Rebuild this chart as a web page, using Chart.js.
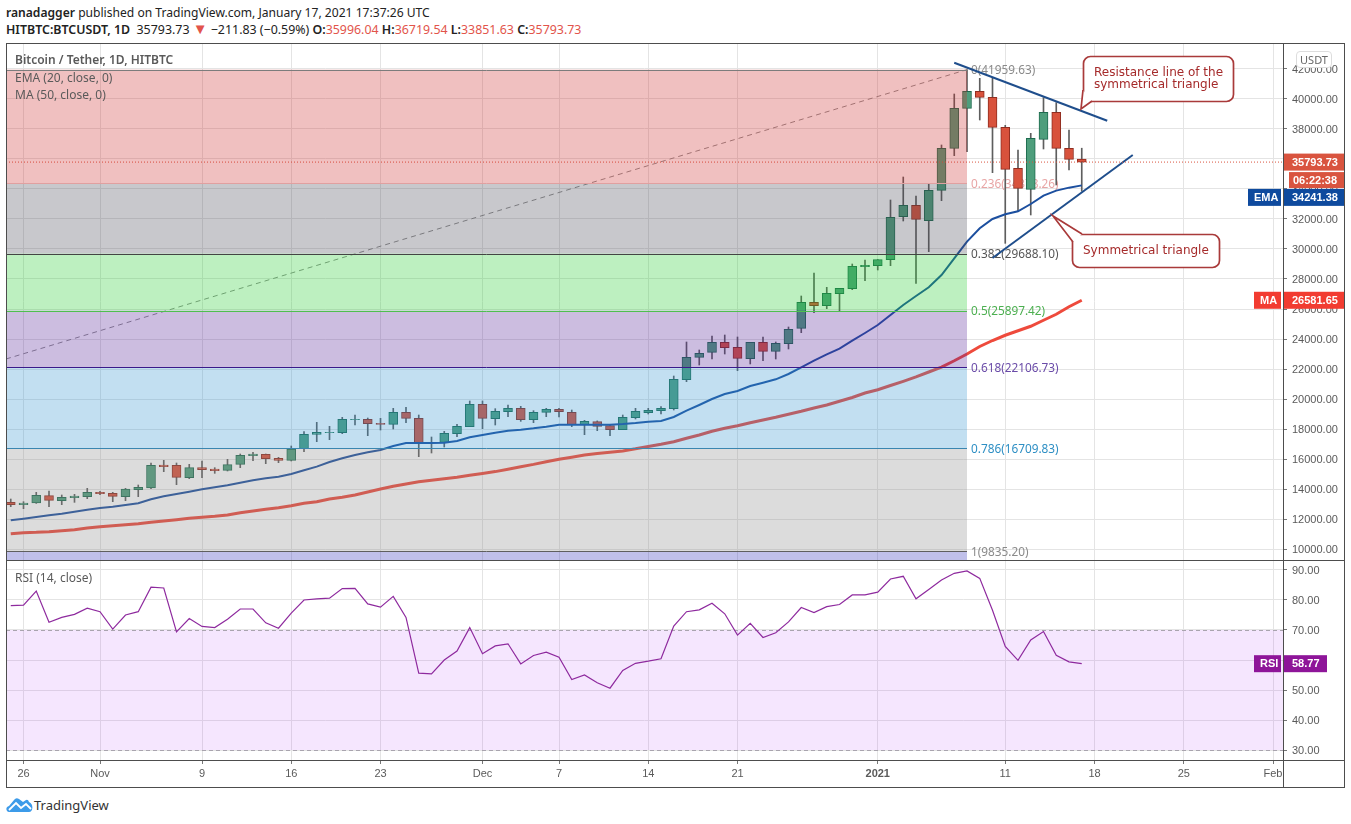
<!DOCTYPE html>
<html>
<head>
<meta charset="utf-8">
<title>BTCUSDT</title>
<script src="https://cdn.jsdelivr.net/npm/chart.js@4"></script>
<style>
    html, body { margin: 0; padding: 0; background: #fff; width: 1351px; height: 824px; overflow: hidden; font-family: 'Noto Sans', sans-serif; }
    .abs { position: absolute; white-space: pre; }
    .head { left: 6px; font-size: 12.1px; color: #222; line-height: 16px; }
    .head b { font-weight: 600; }
    .head i { font-style: normal; color: #e2544b; }
    .leg { left: 15px; font-size: 12px; color: #5a5a5a; line-height: 14px; }
    canvas { position: absolute; }
    .line { position: absolute; background: #4d4d4d; }
</style>
</head>
<body>
<div class="abs head" style="top:5px"><b>ranadagger</b> published on TradingView.com, January 17, 2021 17:37:26 UTC</div>
<div class="abs head" style="top:22px;font-size:12.4px"><b>HITBTC:BTCUSDT, 1D</b>  35793.73 <i style="font-size:15px;line-height:12px">▼</i> −211.83 (−0.59%) <b>O:</b><i>35996.04</i> <b>H:</b><i>36719.54</i> <b>L:</b><i>33851.63</i> <b>C:</b><i>35793.73</i></div>

<canvas id="priceChart" style="left:6px;top:43px" width="1338" height="517"></canvas>
<canvas id="rsiChart" style="left:6px;top:560px" width="1338" height="227"></canvas>

<div class="line" style="left:6px;top:43px;width:1338px;height:1px"></div>
<div class="line" style="left:6px;top:560px;width:1338px;height:1px"></div>
<div class="line" style="left:6px;top:760px;width:1338px;height:1px"></div>
<div class="line" style="left:6px;top:787px;width:1338px;height:1px"></div>
<div class="line" style="left:6px;top:43px;width:1px;height:745px"></div>
<div class="line" style="left:1344px;top:43px;width:1px;height:745px"></div>
<div class="line" style="left:1283px;top:43px;width:1px;height:745px"></div>

<div class="abs leg" style="top:53px;font-weight:600">Bitcoin / Tether, 1D, HITBTC</div>
<div class="abs leg" style="top:71px">EMA (20, close, 0)</div>
<div class="abs leg" style="top:88px">MA (50, close, 0)</div>
<div class="abs leg" style="top:571px">RSI (14, close)</div>

<div class="abs" style="left:1296px;top:51px;width:34px;height:15px;background:#fff;border:1px solid #ddd;border-radius:4px;font-size:11px;color:#666;text-align:center;line-height:15px">USDT</div>

<svg class="abs" style="left:6px;top:797px" width="27" height="16" viewBox="0 0 27 16">
    <path d="M3 15 C0 15 -1 10 3 9 L8 3 Q10 0 13 2 L17 5 L20 3 Q22 2 23 5 C28 7 27 15 23 15 Z" fill="#3d9be9"/>
    <path d="M3 13 L10 6 L15 11 L20 7 L25 12" fill="none" stroke="#fff" stroke-width="1.8"/>
</svg>
<div class="abs" style="left:34px;top:797px;font-size:13px;color:#333;line-height:17px">TradingView</div>

<script>
// days counted from 26 Oct 2020, first candle is 25 Oct
const firstDay = -1;
const pxPerDay = 12.75, day0Px = 23.5 - 6;
const xMin = -day0Px / pxPerDay, xMax = (1277 - day0Px) / pxPerDay;

const tickLabels = {
    0: '26', 6: 'Nov', 14: '9', 21: '16', 28: '23', 36: 'Dec', 42: '7', 49: '14',
    56: '21', 67: '2021', 77: '11', 84: '18', 91: '25', 98: 'Feb'
};
const tickDays = Object.keys(tickLabels).map(Number);
const priceTicks = [];
for (let v = 10000; v <= 42000; v += 2000) priceTicks.push(v);
const rsiTicks = [30, 40, 50, 60, 70, 80, 90];

// open, high, low, close
const candles = [
    [13111,13333,12822,12955],[12955,13155,12689,13067],[13067,13778,13040,13578],[13556,13867,12822,13244],
    [13222,13600,12955,13444],[13422,13644,13111,13533],[13489,14044,13355,13778],[13778,13844,13622,13689],
    [13711,13778,13155,13511],[13489,14044,13222,14000],[13955,14267,13489,14111],[14067,15733,14022,15578],
    [15600,15911,15155,15489],[15578,15733,14289,14778],[14756,15644,14689,15422],[15422,15867,14756,15289],
    [15333,15422,15044,15222],[15244,15978,15200,15622],[15644,16333,15422,16244],[16222,16444,15889,16333],
    [16311,16333,15689,16022],[16044,16111,15755,15911],[15911,16867,15867,16667],[16689,17822,16489,17644],
    [17644,18444,17155,17778],[17755,18178,17289,17778],[17756,18778,17689,18645],[18622,18933,18267,18645],
    [18645,18733,17556,18356],[18378,18711,17933,18311],[18311,19378,18000,19111],[19111,19445,18423,18711],
    [18711,18933,16156,17089],[17111,17467,16400,17067],[17111,17845,16800,17711],[17689,18312,17489,18178],
    [18156,19867,18156,19645],[19645,19867,18023,18711],[18689,19356,18267,19178],[19156,19600,18823,19378],
    [19378,19511,18511,18623],[18623,19223,18423,19111],[19111,19378,18823,19311],[19311,19378,18800,19156],
    [19111,19267,18156,18289],[18289,18578,17623,18511],[18489,18540,17889,18178],[18223,18270,17556,17956],
    [17956,18933,17956,18778],[18756,19378,18667,19178],[19089,19378,19000,19245],[19222,19500,19000,19378],
    [19356,21533,19267,21311],[21289,23800,21156,22778],[22778,23267,22267,23044],[23111,24200,22667,23778],
    [23778,24267,23000,23422],[23445,24133,21889,22711],[22689,23778,22334,23778],[23778,24133,22556,23178],
    [23178,23800,22667,23711],[23689,24800,23334,24645],[24711,26867,24422,26444],[26444,28400,25755,26222],
    [26222,27445,26022,27045],[27022,27378,25867,27378],[27356,29000,27289,28845],[28823,29267,27889,28911],
    [28889,29300,28600,29289],[29289,33267,28889,32112],[32156,34800,31867,32912],[32912,33534,27712,31979],
    [31889,34378,29823,33912],[33912,36934,33223,36712],[36712,40334,36223,39378],[39378,41960,36490,40512],
    [40512,41378,38600,40112],[40112,41378,35090,38112],[38112,38245,30378,35312],[35378,36600,32490,34045],
    [33979,37712,32267,37378],[37312,40089,36667,39112],[39112,39756,34267,36712],[36712,37934,35267,35979],
    [35996,36719,33851,35794]
];

const ema = [
    11911,12022,12133,12245,12356,12489,12622,12733,12822,12933,13045,13311,13511,13667,13822,13978,14111,
    14245,14422,14578,14711,14822,15000,15245,15489,15800,16050,16267,16445,16600,16867,17067,17067,17067,
    17089,17200,17445,17600,17756,17889,17956,18045,18156,18289,18289,18289,18289,18289,18333,18400,18489,
    18534,18800,19222,19600,20000,20334,20534,20867,21089,21311,21667,22111,22556,22978,23356,23889,24400,
    24933,25600,26267,26868,27445,28267,29379,30490,31379,32001,32312,32512,33000,33556,33890,34090,34241
];

const ma = [
    11022,11089,11111,11156,11222,11289,11400,11489,11556,11622,11689,11778,11867,11956,12045,12111,12178,
    12267,12422,12533,12645,12756,12889,13045,13156,13333,13444,13600,13800,14000,14180,14340,14480,14580,
    14690,14790,14920,15040,15160,15320,15480,15640,15820,15980,16120,16270,16360,16450,16540,16680,16840,
    16980,17150,17380,17600,17850,18050,18220,18420,18600,18780,18980,19180,19400,19600,19850,20100,20400,
    20620,20900,21180,21470,21800,22130,22550,23000,23500,23900,24250,24550,24850,25250,25650,26150,26581
];

const rsi = [
    78.1,78.3,83,72.6,74.2,75.2,77.3,76.1,70.3,75,76.1,84.3,84,69.4,73.8,71.2,70.8,73.6,77,77,72.4,70.6,
    75.6,80,80.4,80.6,83.8,83.9,78.7,77.6,81.2,74.2,55.6,55.4,60,63,70.8,62.1,64.7,65.4,58.7,61.5,62.6,60.9,
    53.5,55,52.4,50.6,56.5,58.9,59.6,60.4,71.3,76.1,76.7,78.9,75.4,68.3,72.2,67.5,69.1,72.7,77.5,75.8,77.8,
    78.5,81.7,81.7,82.6,87,87.9,80.4,83.5,86.7,88.9,89.7,87.2,76.6,64.5,59.9,66.7,69.5,61.6,59.4,58.77
];

const fibLevels = [
    { txt: '0(41959.63)',       v: 41959.63, line: '#7c7c7c', color: '#8a8a8a', fill: 'rgba(205,45,45,0.3)' },
    { txt: '0.236(34378.26)',   v: 34378.26, line: '#e0a0a0', color: '#e8a5a5', fill: 'rgba(72,72,85,0.3)' },
    { txt: '0.382(29688.10)',   v: 29688.10, line: '#444444', color: '#555555', fill: 'rgba(38,205,45,0.3)' },
    { txt: '0.5(25897.42)',     v: 25897.42, line: '#4fbf4f', color: '#4caf50', fill: 'rgba(85,35,152,0.3)' },
    { txt: '0.618(22106.73)',   v: 22106.73, line: '#3a1a8a', color: '#6a4ba8', fill: 'rgba(52,148,208,0.3)' },
    { txt: '0.786(16709.83)',   v: 16709.83, line: '#3a86b0', color: '#2e8fc4', fill: 'rgba(138,138,138,0.3)' },
    { txt: '1(9835.20)',        v: 9835.20,  line: '#5f5f5f', color: '#8a8a8a', fill: 'rgba(45,45,185,0.3)' }
];
const fibEndDay = 74;

const pts = arr => arr.map((v, i) => ({ x: firstDay + i, y: v }));

function badge(ctx, x, y, w, h, color, txt, tx, bold) {
    ctx.fillStyle = color;
    ctx.fillRect(x, y, w, h);
    ctx.fillStyle = '#fff';
    ctx.font = (bold === false ? '' : 'bold ') + "11px 'Liberation Sans'";
    ctx.textAlign = 'left';
    ctx.textBaseline = 'middle';
    ctx.fillText(txt, tx, y + h / 2 + 0.5);
}

function callout(ctx, pts, x, y, w, h, r, lines) {
    ctx.save();
    ctx.beginPath();
    ctx.roundRect(x, y, w, h, r);
    ctx.fillStyle = '#fff';
    ctx.fill();
    ctx.strokeStyle = '#a93a3a';
    ctx.lineWidth = 1.7;
    ctx.stroke();
    // pointer on top of the box edge
    ctx.beginPath();
    ctx.moveTo(pts[0][0], pts[0][1]);
    ctx.lineTo(pts[1][0], pts[1][1]);
    ctx.lineTo(pts[2][0], pts[2][1]);
    ctx.closePath();
    ctx.fill();
    ctx.beginPath();
    ctx.moveTo(pts[0][0], pts[0][1]);
    ctx.lineTo(pts[1][0], pts[1][1]);
    ctx.lineTo(pts[2][0], pts[2][1]);
    ctx.stroke();
    ctx.fillStyle = '#a52a2a';
    ctx.font = "12px 'DejaVu Sans'";
    ctx.textAlign = 'left';
    ctx.textBaseline = 'middle';
    lines.forEach(l => ctx.fillText(l.t, l.x, l.y));
    ctx.restore();
}

const fibPlugin = {
    id: 'fib',
    beforeDatasetsDraw(chart) {
        // labels sit under the candles
        const ctx = chart.ctx, y = chart.scales.y, x = chart.scales.x;
        ctx.save();
        ctx.font = "11.8px 'Noto Sans'";
        ctx.textBaseline = 'middle';
        ctx.textAlign = 'left';
        fibLevels.forEach(f => {
            ctx.fillStyle = f.color;
            ctx.fillText(f.txt, x.getPixelForValue(fibEndDay) + 4, y.getPixelForValue(f.v) + 1);
        });
        ctx.restore();
    },
    afterDatasetsDraw(chart) {
        const ctx = chart.ctx, y = chart.scales.y, x = chart.scales.x, area = chart.chartArea;
        const xEnd = x.getPixelForValue(fibEndDay);
        ctx.save();
        fibLevels.forEach((f, i) => {
            const top = y.getPixelForValue(f.v);
            const bottom = i < fibLevels.length - 1 ? y.getPixelForValue(fibLevels[i + 1].v) : area.bottom;
            ctx.fillStyle = f.fill;
            ctx.fillRect(area.left, top, xEnd - area.left, bottom - top);
            ctx.strokeStyle = f.line;
            ctx.lineWidth = 1;
            ctx.beginPath();
            ctx.moveTo(area.left, Math.round(top) + 0.5);
            ctx.lineTo(xEnd, Math.round(top) + 0.5);
            ctx.stroke();
        });
        ctx.restore();
    },
    afterDraw(chart) {
        const ctx = chart.ctx, y = chart.scales.y;
        ctx.save();
        const cy = y.getPixelForValue(35793.73);
        badge(ctx, 1277, cy - 8.5, 61, 17, '#d9543f', '35793.73', 1286);
        badge(ctx, 1283, cy + 10, 55, 16, '#d9543f', '06:22:38', 1287);
        const ey = y.getPixelForValue(34241.38) + 12;
        badge(ctx, 1242, ey - 8.5, 33, 17, '#0e4a9e', 'EMA', 1248);
        badge(ctx, 1277, ey - 8.5, 61, 17, '#0e4a9e', '34241.38', 1286);
        const my = y.getPixelForValue(26581.65);
        badge(ctx, 1248, my - 8.5, 27, 17, '#f23c31', 'MA', 1254);
        badge(ctx, 1277, my - 8.5, 61, 17, '#f23c31', '26581.65', 1286);

        callout(ctx, [[1077, 90 - 43], [1075, 109 - 43], [1086, 101 - 43]], 1077.5, 13.5, 150, 45, 7, [
            { t: 'Resistance line of the', x: 1088, y: 29.5 },
            { t: 'symmetrical triangle', x: 1088, y: 41.5 }
        ]);
        callout(ctx, [[1067, 242 - 43], [1047, 216 - 43], [1076, 234 - 43]], 1066.5, 191.5, 147, 33, 7, [
            { t: 'Symmetrical triangle', x: 1077, y: 207.5 }
        ]);
        ctx.restore();
    }
};

const rsiPlugin = {
    id: 'rsiBand',
    beforeDatasetsDraw(chart) {
        const ctx = chart.ctx, y = chart.scales.y, area = chart.chartArea;
        const y70 = y.getPixelForValue(70), y30 = y.getPixelForValue(30);
        ctx.save();
        ctx.fillStyle = 'rgba(170,50,245,0.12)';
        ctx.fillRect(area.left, y70, area.right - area.left, y30 - y70);
        ctx.strokeStyle = '#a9a4ae';
        ctx.setLineDash([4, 3]);
        ctx.lineWidth = 1;
        [y70, y30].forEach(p => {
            ctx.beginPath();
            ctx.moveTo(area.left, Math.round(p) + 0.5);
            ctx.lineTo(area.right, Math.round(p) + 0.5);
            ctx.stroke();
        });
        ctx.restore();
    },
    afterDraw(chart) {
        const ctx = chart.ctx, y = chart.scales.y;
        const py = y.getPixelForValue(58.77);
        ctx.save();
        badge(ctx, 1248, py - 8.5, 27, 17, '#8e1599', 'RSI', 1254);
        badge(ctx, 1277, py - 8.5, 44, 17, '#8e1599', '58.77', 1286);
        ctx.restore();
    }
};

Chart.defaults.font.family = "'Liberation Sans', sans-serif";
Chart.defaults.font.size = 11;
Chart.defaults.color = '#5a5a5a';
Chart.defaults.animation = false;
Chart.defaults.responsive = false;

function fixY(scale) {
    scale.width = 61;
    scale.paddingTop = 0;
    scale.paddingBottom = 0;
}

function fixX(h) {
    return scale => {
        scale.height = h;
        scale.paddingLeft = 0;
        scale.paddingRight = 0;
    };
}

const gridColor = '#e4e4e4';

const priceChart = new Chart(document.getElementById('priceChart'), {
    data: {
        datasets: [
            { type: 'line', label: 'fib trend', data: [{ x: xMin, y: 22667 }, { x: 74, y: 41959.63 }], borderColor: '#8f8f8f', borderWidth: 1, borderDash: [5, 4], pointRadius: 0, order: 1 },
            { type: 'line', label: 'last', data: [{ x: xMin, y: 35793.73 }, { x: xMax, y: 35793.73 }], borderColor: '#d9543f', borderWidth: 1, borderDash: [1, 2], pointRadius: 0, order: 1 },
            { type: 'line', label: 'resistance', data: [{ x: 73, y: 42420 }, { x: 85, y: 38553 }], borderColor: '#1f4e8c', borderWidth: 2, pointRadius: 0, order: 1 },
            { type: 'line', label: 'support', data: [{ x: 76, y: 29400 }, { x: 87, y: 36267 }], borderColor: '#1f4e8c', borderWidth: 2, pointRadius: 0, order: 1 },
            { type: 'line', label: 'EMA', data: pts(ema), borderColor: '#1c4f9f', borderWidth: 2, pointRadius: 0, order: 2 },
            { type: 'line', label: 'MA', data: pts(ma), borderColor: '#ee4a3c', borderWidth: 3, pointRadius: 0, order: 3 },
            {
                type: 'bar', label: 'body', grouped: false, barThickness: 9, order: 4,
                data: candles.map((c, i) => ({ x: firstDay + i, y: [c[0], c[3]] })),
                backgroundColor: candles.map(c => c[3] >= c[0] ? '#4e9e7c' : '#d8523c'),
                borderColor: candles.map(c => c[3] >= c[0] ? '#1e6b4f' : '#8f2d20'),
                borderWidth: 1, borderSkipped: false
            },
            {
                type: 'bar', label: 'wick', grouped: false, barThickness: 1, order: 5,
                data: candles.map((c, i) => ({ x: firstDay + i, y: [c[2], c[1]] })),
                backgroundColor: '#5e5e5e'
            }
        ]
    },
    options: {
        layout: { padding: 0 },
        events: [],
        plugins: { legend: { display: false }, tooltip: { enabled: false } },
        scales: {
            x: {
                type: 'linear', min: xMin, max: xMax, offset: false,
                grid: { color: gridColor, drawTicks: false, offset: false },
                border: { display: false },
                ticks: { display: false },
                afterBuildTicks: ax => { ax.ticks = tickDays.map(v => ({ value: v })); },
                afterFit: fixX(0)
            },
            y: {
                position: 'right', min: 9267, max: 43733,
                grid: { color: gridColor, tickLength: 4, tickColor: '#777' },
                border: { display: false },
                ticks: { padding: 5, labelOffset: 1, callback: v => v.toFixed(2) },
                afterBuildTicks: ax => { ax.ticks = priceTicks.map(v => ({ value: v })); },
                afterFit: fixY
            }
        }
    },
    plugins: [fibPlugin]
});

const rsiChart = new Chart(document.getElementById('rsiChart'), {
    type: 'line',
    data: {
        datasets: [
            { label: 'RSI', data: pts(rsi), borderColor: '#8e2a9e', borderWidth: 1.2, pointRadius: 0 }
        ]
    },
    options: {
        layout: { padding: 0 },
        events: [],
        plugins: { legend: { display: false }, tooltip: { enabled: false } },
        scales: {
            x: {
                type: 'linear', min: xMin, max: xMax,
                grid: { color: gridColor, tickLength: 4, tickColor: '#777' },
                border: { display: false },
                ticks: {
                    autoSkip: false, maxRotation: 0, padding: 3,
                    callback: v => tickLabels[v],
                    font: c => c.tick && c.tick.value === 67 ? { weight: 'bold' } : {}
                },
                afterBuildTicks: ax => { ax.ticks = tickDays.map(v => ({ value: v })); },
                afterFit: fixX(27)
            },
            y: {
                position: 'right', min: 26.667, max: 93.333,
                grid: { color: gridColor, tickLength: 4, tickColor: '#777' },
                border: { display: false },
                ticks: { padding: 5, labelOffset: 1, callback: v => v.toFixed(2) },
                afterBuildTicks: ax => { ax.ticks = rsiTicks.map(v => ({ value: v })); },
                afterFit: fixY
            }
        }
    },
    plugins: [rsiPlugin]
});
</script>
</body>
</html>
